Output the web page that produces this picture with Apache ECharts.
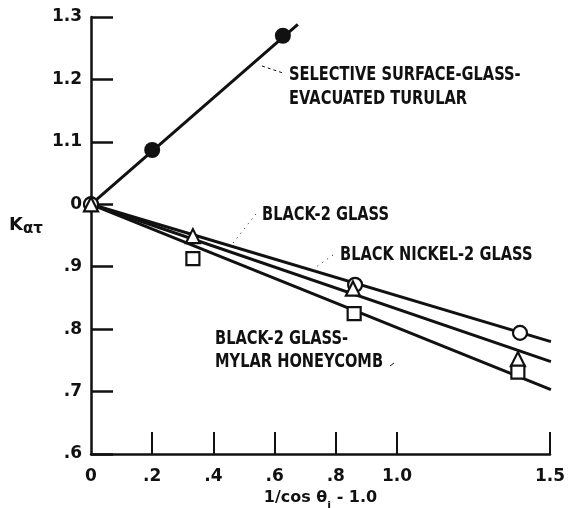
<!DOCTYPE html>
<html><head><meta charset="utf-8">
<script src="https://cdn.jsdelivr.net/npm/echarts@6/dist/echarts.min.js"></script>
<style>html,body{margin:0;padding:0;background:#fff}#c{width:568px;height:508px}</style>
</head><body><div id="c"></div>
<script>
// ---- data ----
var xTicks = [0, 0.2, 0.4, 0.6, 0.8, 1.0, 1.5];
var xTickLabels = ['0', '.2', '.4', '.6', '.8', '1.0', '1.5'];
var yTicks = [0.6, 0.7, 0.8, 0.9, 1.0, 1.1, 1.2, 1.3];
var yTickLabels = ['.6', '.7', '.8', '.9', '0', '1.1', '1.2', '1.3'];

var selectivePts = [[0, 1.0], [0.2, 1.087], [0.627, 1.27]];
var selectiveFit = [[0, 1.0], [0.676, 1.288]];
var black2Pts = [[0, 1.0], [0.863, 0.871], [1.402, 0.794]];
var black2Fit = [[0, 1.0], [1.503, 0.780]];
var nickelPts = [[0, 1.0], [0.333, 0.949], [0.856, 0.865], [1.395, 0.752]];
var nickelFit = [[0, 1.0], [1.503, 0.748]];
var mylarPts = [[0.333, 0.913], [0.86, 0.825], [1.395, 0.731]];
var mylarFit = [[0, 1.0], [1.503, 0.703]];

var FONT = '"DejaVu Sans", sans-serif';
var INK = '#111';

var chart = echarts.init(document.getElementById('c'));

function fitLine(d) {
  return { type: 'line', data: d, symbol: 'none', lineStyle: { color: INK, width: 3, opacity: 1 }, z: 2, silent: true };
}
function pts(d, sym, size, filled) {
  return {
    type: 'scatter', data: d, symbol: sym, symbolSize: size, z: 3,
    itemStyle: filled ? { color: INK, opacity: 1 } : { color: '#fff', borderColor: INK, borderWidth: 2.2, opacity: 1 }
  };
}

var SX = 0.77;
function label(text, x, y) {
  return { type: 'text', x: x, y: y, scaleX: SX, style: { text: text, fill: INK, font: 'bold 19px ' + FONT } };
}

chart.setOption({
  animation: false,
  backgroundColor: '#fff',
  grid: { left: 91, right: 18, top: 17, bottom: 54, containLabel: false, outerBoundsMode: 'none' },
  xAxis: {
    type: 'value', min: 0, max: 1.5, interval: 0.1,
    name: '1/cos θ{s|i} - 1.0', nameLocation: 'middle', nameGap: 35,
    nameTextStyle: { color: INK, fontFamily: FONT, fontWeight: 'bold', fontSize: 16,
      rich: { s: { fontSize: 11, fontWeight: 'bold', fontFamily: FONT, verticalAlign: 'bottom', padding: [0, 0, -6, 0] } } },
    axisLine: { lineStyle: { color: INK, width: 2.5 } },
    axisTick: { show: true, inside: true, length: 22, lineStyle: { color: INK, width: 2 }, customValues: xTicks.slice(1) },
    axisLabel: { color: INK, fontFamily: FONT, fontWeight: 'bold', fontSize: 17, margin: 14,
      customValues: xTicks,
      formatter: function (v) { var i = xTicks.findIndex(function (t) { return Math.abs(t - v) < 1e-6; }); return i >= 0 ? xTickLabels[i] : ''; } },
    splitLine: { show: false }
  },
  yAxis: {
    type: 'value', min: 0.6, max: 1.3, interval: 0.1,
    axisLine: { show: true, lineStyle: { color: INK, width: 2.5 } },
    axisTick: { show: true, inside: true, length: 22, lineStyle: { color: INK, width: 2.5 } },
    axisLabel: { color: INK, fontFamily: FONT, fontWeight: 'bold', fontSize: 17, margin: 9,
      formatter: function (v) { var i = yTicks.findIndex(function (t) { return Math.abs(t - v) < 1e-6; }); return i >= 0 ? yTickLabels[i] : ''; } },
    splitLine: { show: false }
  },
  series: [
    fitLine(selectiveFit), fitLine(black2Fit), fitLine(nickelFit), fitLine(mylarFit),
    pts(selectivePts, 'circle', 16, true),
    pts(black2Pts, 'circle', 14, false),
    pts(nickelPts, 'triangle', 14, false),
    pts(mylarPts, 'rect', 13, false)
  ],
  graphic: [
    { type: 'text', left: 9, top: 216, style: { text: 'K{s|ατ}', fill: INK, font: 'bold 18px ' + FONT,
      rich: { s: { font: 'bold 15px "DejaVu Sans", sans-serif', fill: INK, padding: [8, 0, 0, 0] } } } },
    label('SELECTIVE SURFACE-GLASS-', 289, 66),
    label('EVACUATED TURULAR', 289, 90),
    { type: 'line', shape: { x1: 262, y1: 66, x2: 283, y2: 73 }, style: { stroke: INK, lineWidth: 1, lineDash: [3, 3] } },
    label('BLACK-2 GLASS', 262, 206),
    { type: 'polyline', shape: { points: [[256, 214], [244, 229], [233, 243]] }, style: { stroke: INK, lineWidth: 1, lineDash: [1, 5], fill: null } },
    label('BLACK NICKEL-2 GLASS', 340, 246),
    { type: 'line', shape: { x1: 333, y1: 255, x2: 316, y2: 267 }, style: { stroke: INK, lineWidth: 1, lineDash: [1, 5] } },
    label('BLACK-2 GLASS-', 215, 330),
    label('MYLAR HONEYCOMB', 215, 353),
    { type: 'line', shape: { x1: 390, y1: 366, x2: 394, y2: 363 }, style: { stroke: INK, lineWidth: 1 } }
  ]
});
</script></body></html>
